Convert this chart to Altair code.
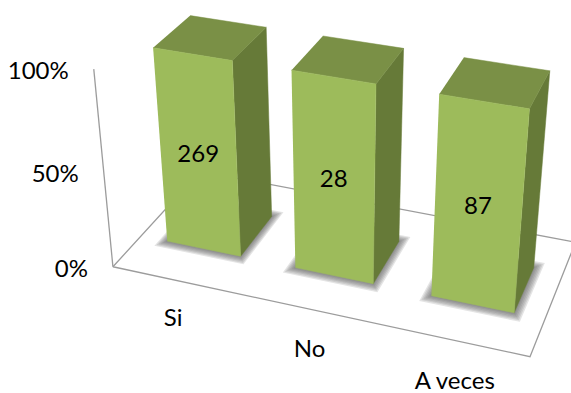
import altair as alt
import numpy as np
import pandas as pd

# Chart content
categories = ["Si", "No", "A veces"]
counts = [269, 28, 87]
shares = [1.0, 1.0, 1.0]  # every column fills the 100% stacked axis
axis_ticks = [0.0, 0.5, 1.0]
tick_labels = ["0%", "50%", "100%"]

# Perspective camera: world (category, share, depth) -> page pixels
CAMERA = np.array([
    [123.2072273, -26.4036516, 111.732361, 112.9195639],
    [19.3102381, -202.9689126, -74.5599049, 266.7569699],
    [-0.0298571, -0.0773664, 0.122088, 1.0],
])
BAR_INSET = 0.21    # gap on each side of a column within its category band
DEPTH_INSET = 0.30  # gap before and behind a column on the floor

WIDTH, HEIGHT = 571, 393
FONT = "Lato"
FONT_SIZE = 24


def project(x, y, z):
    u, v, w = CAMERA @ np.array([x, y, z, 1.0])
    return u / w, v / w


def polygon_rows(name, corners):
    rows = []
    for order, corner in enumerate(corners):
        u, v = project(*corner)
        rows.append({"poly": name, "order": order, "u": u, "v": v})
    return rows


x_scale = alt.Scale(domain=[0, WIDTH], range=[0, WIDTH], nice=False, zero=False)
y_scale = alt.Scale(domain=[0, HEIGHT], range=[0, HEIGHT], nice=False, zero=False)
X = alt.X("u:Q", scale=x_scale, axis=None)
Y = alt.Y("v:Q", scale=y_scale, axis=None)


def faces(rows, color, **mark_args):
    return (
        alt.Chart(pd.DataFrame(rows))
        .mark_line(fill=color, stroke=color, strokeWidth=0.5, clip=True, interpolate="linear", **mark_args)
        .encode(x=X, y=Y, detail="poly:N", order="order:Q")
    )


# Frame of the plot box: floor outline and the value axis
n = len(categories)
frame_rows = []
frame_rows += polygon_rows("value axis", [(0, 1, 0), (0, 0, 0)])
frame_rows += polygon_rows("floor", [(0, 0, 0), (n, 0, 0), (n, 0, 1), (0, 0, 1), (0, 0, 0)])
frame = (
    alt.Chart(pd.DataFrame(frame_rows))
    .mark_line(color="#9c9c9c", strokeWidth=1.3, clip=True)
    .encode(x=X, y=Y, detail="poly:N", order="order:Q")
)

front_rows, side_rows, top_rows = [], [], []
shadow_layers = []

for i, share in enumerate(shares):
    x0, x1 = i + BAR_INSET, i + 1 - BAR_INSET
    z0, z1 = DEPTH_INSET, 1 - DEPTH_INSET
    front_rows += polygon_rows(f"front{i}", [(x0, share, z0), (x1, share, z0), (x1, 0, z0), (x0, 0, z0)])
    side_rows += polygon_rows(f"side{i}", [(x1, share, z0), (x1, share, z1), (x1, 0, z1), (x1, 0, z0)])
    top_rows += polygon_rows(f"top{i}", [(x0, share, z0), (x1, share, z0), (x1, share, z1), (x0, share, z1)])

# Soft contact shadow: nested footprints of low opacity, widest first
for step, spread in enumerate([0.06, 0.05, 0.04, 0.03, 0.02, 0.01]):
    rows = []
    for i in range(n):
        x0, x1 = i + BAR_INSET - spread, i + 1 - BAR_INSET + spread
        z0, z1 = DEPTH_INSET - spread, 1 - DEPTH_INSET + spread
        rows += polygon_rows(f"shadow{i}-{step}", [(x0, 0, z0), (x1, 0, z0), (x1, 0, z1), (x0, 0, z1)])
    shadow_layers.append(
        alt.Chart(pd.DataFrame(rows))
        .mark_line(fill="#555555", fillOpacity=0.16, strokeWidth=0, clip=True)
        .encode(x=X, y=Y, detail="poly:N", order="order:Q")
    )

# Value labels sit in the middle of each front face
value_rows = []
for i, (count, share) in enumerate(zip(counts, shares)):
    u, v = project(i + 0.5, share / 2, DEPTH_INSET)
    value_rows.append({"u": u, "v": v, "label": str(count)})

# Category labels sit on the floor plane ahead of the box
category_rows = []
for i, name in enumerate(categories):
    u, v = project(i * 0.975 + 0.66, 0, -0.27)
    category_rows.append({"u": u, "v": v, "label": name})

# Percent labels to the left of the value axis
tick_rows = []
for tick, label in zip(axis_ticks, tick_labels):
    u, v = project(0, tick, 0)
    tick_rows.append({"u": u, "v": v, "label": label})


def texts(rows, **mark_args):
    return (
        alt.Chart(pd.DataFrame(rows))
        .mark_text(font=FONT, fontSize=FONT_SIZE, color="#000000", **mark_args)
        .encode(x=X, y=Y, text="label:N")
    )


chart = alt.layer(
    frame,
    *shadow_layers,
    faces(side_rows, "#667a38"),
    faces(top_rows, "#7a9046"),
    faces(front_rows, "#9dbb5b"),
    texts(value_rows),
    texts(category_rows, dy=3),
    texts(tick_rows, align="right", dx=-25, dy=3),
).properties(
    width=WIDTH,
    height=HEIGHT,
    padding=0,
    autosize=alt.AutoSizeParams(type="none"),
    background="#ffffff",
).configure_view(stroke=None)

chart.save("out.html", embed_options={"renderer": "svg", "actions": False})
